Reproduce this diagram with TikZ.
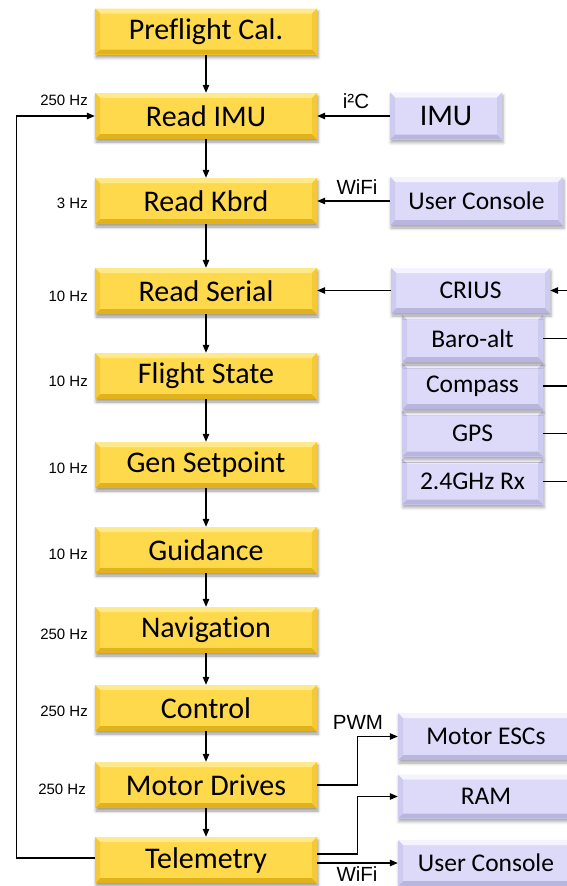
\documentclass[tikz,border=0pt]{standalone}
\usepackage{fontspec}
\newfontfamily\carlito[Ligatures=NoCommon,RawFeature=-liga;-clig]{Carlito}
\newfontfamily\arialf{Liberation Sans}
\usetikzlibrary{arrows.meta,calc,shadows.blur}
\definecolor{yMain}{HTML}{FFD94C}
\definecolor{yTop}{HTML}{FFE98A}
\definecolor{yBot}{HTML}{E2B21C}
\definecolor{ySide}{HTML}{F4C935}
\definecolor{lMain}{HTML}{DCDAF8}
\definecolor{lTop}{HTML}{F4F3FF}
\definecolor{lBot}{HTML}{B8B5DE}
\definecolor{lSide}{HTML}{CDCBF0}
\tikzset{
  bevel/.style n args={3}{path picture={
    \fill[#1] (path picture bounding box.north west) -- (path picture bounding box.north east)
      -- ($(path picture bounding box.north east)+(-5pt,-5pt)$) -- ($(path picture bounding box.north west)+(5pt,-5pt)$) -- cycle;
    \fill[#2] (path picture bounding box.south west) -- (path picture bounding box.south east)
      -- ($(path picture bounding box.south east)+(-5pt,5pt)$) -- ($(path picture bounding box.south west)+(5pt,5pt)$) -- cycle;
    \fill[#3] (path picture bounding box.north west) -- ($(path picture bounding box.north west)+(5pt,-5pt)$)
      -- ($(path picture bounding box.south west)+(5pt,5pt)$) -- (path picture bounding box.south west) -- cycle;
    \fill[#3] (path picture bounding box.north east) -- ($(path picture bounding box.north east)+(-5pt,-5pt)$)
      -- ($(path picture bounding box.south east)+(-5pt,5pt)$) -- (path picture bounding box.south east) -- cycle;
  }},
  ybox/.style={rectangle, fill=yMain, bevel={yTop}{yBot}{ySide}, minimum width=222pt, minimum height=46pt,
    inner sep=0pt, font=\carlito\fontsize{30}{30}\selectfont,
    blur shadow={shadow xshift=1pt, shadow yshift=-3pt, shadow blur radius=3pt, shadow opacity=40}},
  lbox/.style={rectangle, fill=lMain, bevel={lTop}{lBot}{lSide}, minimum height=46pt,
    inner sep=0pt, font=\carlito\fontsize{25.5}{25.5}\selectfont,
    blur shadow={shadow xshift=1pt, shadow yshift=-3pt, shadow blur radius=3pt, shadow opacity=35}},
  hz/.style={anchor=east, font=\arialf\fontsize{15}{15}\selectfont, inner sep=0pt},
  lab/.style={font=\arialf\fontsize{20.5}{20.5}\selectfont, inner sep=0pt},
  arr/.style={line width=1.2pt, -{Triangle[length=8pt,width=6.5pt]}},
  ln/.style={line width=1.2pt},
}
\begin{document}
\begin{tikzpicture}[x=1pt,y=-1pt]
\useasboundingbox (0,0) rectangle (567,886);
\clip (0,0) rectangle (567,886);
% main chain
\node[ybox] (pre) at (206,31.5) {Preflight Cal.};
\node[ybox] (imu) at (206,116) {Read IMU};
\node[ybox] (kbd) at (206,201) {Read Kbrd};
\node[ybox] (ser) at (206,291) {Read Serial};
\node[ybox] (fs)  at (206,376) {Flight State};
\node[ybox] (gen) at (206,465) {Gen Setpoint};
\node[ybox] (gui) at (206,550) {Guidance};
\node[ybox] (nav) at (206,630) {Navigation};
\node[ybox] (ctl) at (206,708) {Control};
\node[ybox] (mot) at (206,785) {Motor Drives};
\node[ybox] (tel) at (206,860) {Telemetry};
% rates
\node[hz] (h1) at (88,100) {250 Hz};
\node[hz] (h2) at (88,203) {3 Hz};
\node[hz] (h3) at (88,296) {10 Hz};
\node[hz] (h4) at (88,381) {10 Hz};
\node[hz] (h5) at (88,468) {10 Hz};
\node[hz] (h6) at (88,554) {10 Hz};
\node[hz] (h7) at (88,634) {250 Hz};
\node[hz] (h8) at (88,711) {250 Hz};
\node[hz] (h9) at (86,789) {250 Hz};
% right boxes
\node[lbox, minimum width=112pt, minimum height=47pt, font=\carlito\fontsize{30}{30}\selectfont] (imub) at (446,116) {IMU};
\node[lbox, minimum width=173pt, minimum height=48pt] (uc1) at (476.5,201) {User Console};
\node[lbox, minimum width=141pt] (rx) at (472.5,481.5) {2.4GHz Rx};
\node[lbox, minimum width=141pt] (gps) at (472.5,433.5) {GPS};
\node[lbox, minimum width=141pt] (comp) at (472.5,386) {Compass};
\node[lbox, minimum width=141pt, minimum height=47pt] (baro) at (472.5,338.5) {Baro-alt};
\node[lbox, minimum width=159pt, minimum height=45pt] (crius) at (470.5,290.5) {CRIUS};
\node[lbox, minimum width=176pt, minimum height=47pt] (esc) at (486,736.5) {Motor ESCs};
\node[lbox, minimum width=176pt, minimum height=44pt] (ram) at (486,796.5) {RAM};
\node[lbox, minimum width=176pt, minimum height=46pt] (uc2) at (486,863) {User Console};
% chain arrows
\foreach \a/\b in {pre/imu,imu/kbd,kbd/ser,ser/fs,fs/gen,gen/gui,gui/nav,nav/ctl,ctl/mot,mot/tel}
  \draw[arr] (\a) -- (\b);
% feedback loop
\draw[arr] ([yshift=2pt]tel.west) -- ++(-78,0) |- (imu.west);
% inputs
\draw[arr] (imub) -- (imu);
\node[lab] (li2c) at (356,101) {i²C};
\draw[arr] (uc1) -- (kbd);
\node[lab] (lwifi1) at (357,187) {WiFi};
\draw[arr] (crius.west) -- (ser.east |- crius.west);
\coordinate (cin) at (572,290.5);
\draw[arr] (cin) -- (crius.east);
\foreach \n in {baro,comp,gps,rx}
  \draw[ln] (\n.east) -- ++(30,0);
% outputs
\draw[arr] (mot.east) -- ++(40,0) |- (esc.west);
\node[lab] (lpwm) at (358,722) {PWM};
\draw[arr] ([yshift=6pt]tel.east) -- ++(40,0) |- (ram.west);
\draw[arr] ([yshift=-3pt]tel.east) -- (uc2.west);
\node[lab] (lwifi2) at (357,874) {WiFi};
\end{tikzpicture}
\end{document}
